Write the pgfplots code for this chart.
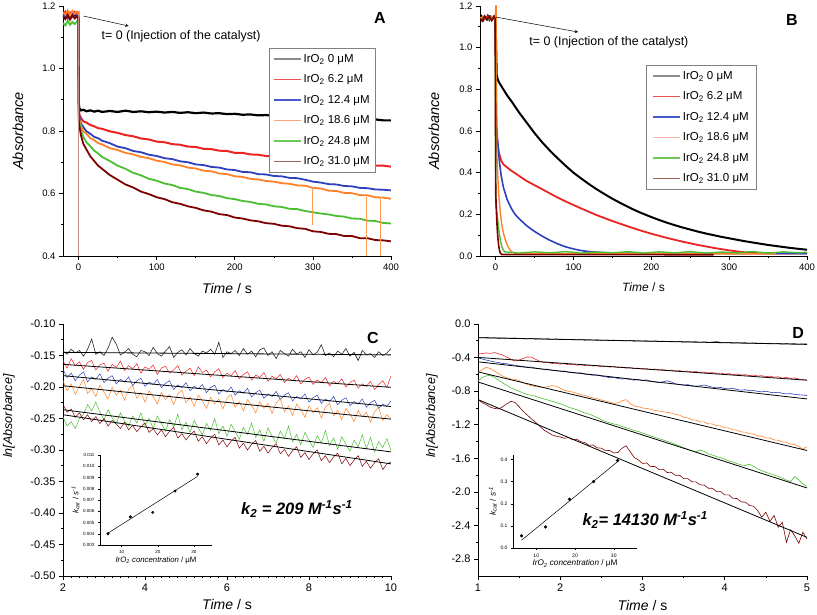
\documentclass[border=0pt]{standalone}
\usepackage{fontspec}
\setmainfont{Liberation Sans}
\usepackage{pgfplots}
\usepackage{pgfplotstable}
\pgfplotsset{compat=1.18}

\definecolor{cK}{RGB}{0,0,0}
\definecolor{cR}{RGB}{235,35,35}
\definecolor{cB}{RGB}{45,65,190}
\definecolor{cO}{RGB}{255,130,40}
\definecolor{cG}{RGB}{75,190,50}
\definecolor{cM}{RGB}{125,0,0}
\definecolor{lK}{RGB}{140,140,140}
\definecolor{lR}{RGB}{240,80,80}
\definecolor{lB}{RGB}{70,90,205}
\definecolor{lO}{RGB}{255,165,120}
\definecolor{lP}{RGB}{250,180,170}
\definecolor{lG}{RGB}{110,200,90}
\definecolor{lM}{RGB}{165,100,90}

\newcommand{\fs}[1]{\fontsize{#1}{#1}\selectfont}

\pgfplotstableread{
t k r b o g m
-20 1.170 1.175 1.165 1.180 1.145 1.165
-17 1.162 1.182 1.172 1.172 1.138 1.158
-14 1.176 1.168 1.160 1.186 1.152 1.171
-11 1.166 1.179 1.170 1.170 1.140 1.156
-8 1.174 1.171 1.175 1.184 1.149 1.169
-5 1.164 1.181 1.162 1.175 1.142 1.160
-2 1.175 1.172 1.171 1.182 1.151 1.167
-0.3 1.168 1.177 1.166 1.177 1.145 1.163
0.3 0.885 0.870 0.860 0.850 0.840 0.830
1 0.872 0.852 0.846 0.836 0.826 0.815
3 0.866 0.842 0.824 0.816 0.801 0.786
6 0.868 0.831 0.813 0.799 0.781 0.759
10 0.863 0.827 0.799 0.791 0.764 0.741
15 0.866 0.819 0.791 0.777 0.751 0.719
20 0.862 0.815 0.781 0.771 0.737 0.704
25 0.865 0.809 0.777 0.761 0.728 0.689
30 0.861 0.807 0.769 0.757 0.717 0.679
40 0.864 0.799 0.761 0.745 0.704 0.659
50 0.861 0.794 0.750 0.739 0.689 0.644
60 0.865 0.787 0.745 0.730 0.679 0.629
70 0.861 0.783 0.736 0.725 0.666 0.619
80 0.863 0.776 0.732 0.717 0.658 0.606
90 0.860 0.773 0.724 0.713 0.647 0.598
100 0.862 0.766 0.720 0.705 0.641 0.588
110 0.859 0.764 0.713 0.701 0.632 0.582
120 0.861 0.758 0.710 0.693 0.627 0.572
130 0.858 0.756 0.703 0.690 0.618 0.567
140 0.860 0.750 0.700 0.683 0.614 0.559
150 0.857 0.749 0.693 0.680 0.606 0.554
160 0.859 0.743 0.691 0.673 0.602 0.546
170 0.856 0.742 0.685 0.671 0.595 0.542
180 0.857 0.737 0.683 0.664 0.592 0.534
190 0.854 0.736 0.677 0.662 0.585 0.531
200 0.855 0.730 0.675 0.655 0.582 0.523
210 0.852 0.730 0.669 0.653 0.576 0.520
220 0.853 0.725 0.668 0.647 0.573 0.514
230 0.850 0.724 0.662 0.645 0.567 0.511
240 0.851 0.720 0.661 0.640 0.565 0.505
250 0.848 0.719 0.656 0.638 0.559 0.503
260 0.849 0.715 0.655 0.633 0.557 0.497
270 0.846 0.714 0.650 0.631 0.551 0.495
280 0.847 0.710 0.649 0.626 0.550 0.489
290 0.844 0.710 0.644 0.625 0.544 0.487
300 0.845 0.705 0.638 0.618 0.540 0.479
310 0.842 0.705 0.635 0.616 0.536 0.477
320 0.843 0.701 0.630 0.609 0.533 0.471
330 0.840 0.701 0.629 0.608 0.528 0.470
340 0.841 0.697 0.624 0.602 0.526 0.464
350 0.838 0.697 0.623 0.601 0.520 0.464
360 0.839 0.693 0.618 0.595 0.519 0.457
370 0.836 0.693 0.617 0.594 0.513 0.457
380 0.837 0.689 0.613 0.588 0.512 0.451
390 0.834 0.689 0.612 0.587 0.506 0.450
400 0.834 0.686 0.610 0.583 0.504 0.447
}\tableA

\pgfplotstableread{
x k r b o g m
2.0 -0.143 -0.158 -0.172 -0.190 -0.248 -0.228
2.1 -0.148 -0.170 -0.185 -0.206 -0.262 -0.240
2.2 -0.140 -0.155 -0.178 -0.195 -0.255 -0.235
2.3 -0.146 -0.166 -0.190 -0.212 -0.266 -0.248
2.4 -0.142 -0.160 -0.181 -0.199 -0.250 -0.241
2.5 -0.151 -0.172 -0.176 -0.188 -0.243 -0.252
2.6 -0.140 -0.161 -0.192 -0.210 -0.228 -0.244
2.7 -0.124 -0.158 -0.184 -0.203 -0.238 -0.255
2.8 -0.148 -0.173 -0.188 -0.215 -0.224 -0.247
2.9 -0.144 -0.165 -0.179 -0.197 -0.240 -0.258
3.0 -0.150 -0.162 -0.193 -0.208 -0.252 -0.250
3.1 -0.138 -0.175 -0.186 -0.219 -0.236 -0.262
3.2 -0.121 -0.164 -0.182 -0.200 -0.249 -0.253
3.3 -0.132 -0.169 -0.195 -0.213 -0.258 -0.259
3.4 -0.149 -0.159 -0.188 -0.205 -0.241 -0.266
3.5 -0.145 -0.174 -0.192 -0.221 -0.254 -0.256
3.6 -0.139 -0.166 -0.184 -0.204 -0.262 -0.268
3.7 -0.148 -0.171 -0.198 -0.198 -0.246 -0.261
3.8 -0.152 -0.163 -0.190 -0.218 -0.257 -0.271
3.9 -0.142 -0.178 -0.186 -0.209 -0.241 -0.263
4.0 -0.144 -0.168 -0.199 -0.224 -0.261 -0.257
4.1 -0.150 -0.172 -0.192 -0.206 -0.250 -0.272
4.2 -0.137 -0.165 -0.196 -0.215 -0.266 -0.266
4.3 -0.147 -0.180 -0.188 -0.227 -0.246 -0.276
4.4 -0.151 -0.170 -0.201 -0.209 -0.258 -0.268
4.5 -0.143 -0.167 -0.194 -0.220 -0.270 -0.279
4.6 -0.136 -0.178 -0.190 -0.212 -0.252 -0.270
4.7 -0.153 -0.173 -0.204 -0.228 -0.263 -0.264
4.8 -0.145 -0.166 -0.197 -0.211 -0.243 -0.281
4.9 -0.141 -0.181 -0.201 -0.205 -0.268 -0.274
5.0 -0.149 -0.175 -0.193 -0.225 -0.256 -0.284
5.1 -0.139 -0.170 -0.206 -0.216 -0.272 -0.276
5.2 -0.147 -0.182 -0.199 -0.231 -0.253 -0.270
5.3 -0.151 -0.168 -0.203 -0.213 -0.265 -0.286
5.4 -0.143 -0.177 -0.196 -0.222 -0.276 -0.279
5.5 -0.146 -0.173 -0.209 -0.234 -0.258 -0.290
5.6 -0.140 -0.184 -0.201 -0.216 -0.269 -0.281
5.7 -0.148 -0.176 -0.197 -0.227 -0.250 -0.275
5.8 -0.129 -0.171 -0.211 -0.219 -0.274 -0.292
5.9 -0.153 -0.185 -0.204 -0.235 -0.262 -0.284
6.0 -0.144 -0.178 -0.208 -0.218 -0.278 -0.295
6.1 -0.147 -0.182 -0.200 -0.212 -0.259 -0.286
6.2 -0.142 -0.174 -0.213 -0.232 -0.271 -0.280
6.3 -0.150 -0.187 -0.206 -0.223 -0.283 -0.297
6.4 -0.139 -0.180 -0.210 -0.238 -0.264 -0.289
6.5 -0.148 -0.176 -0.202 -0.220 -0.275 -0.300
6.6 -0.143 -0.189 -0.216 -0.229 -0.257 -0.291
6.7 -0.152 -0.181 -0.209 -0.241 -0.280 -0.285
6.8 -0.141 -0.185 -0.205 -0.223 -0.268 -0.302
6.9 -0.138 -0.177 -0.218 -0.234 -0.286 -0.294
7.0 -0.150 -0.191 -0.211 -0.226 -0.265 -0.305
7.1 -0.144 -0.183 -0.215 -0.242 -0.278 -0.296
7.2 -0.155 -0.187 -0.207 -0.225 -0.289 -0.290
7.3 -0.142 -0.180 -0.220 -0.219 -0.270 -0.306
7.4 -0.147 -0.193 -0.213 -0.239 -0.282 -0.299
7.5 -0.151 -0.186 -0.209 -0.230 -0.262 -0.310
7.6 -0.140 -0.190 -0.222 -0.245 -0.287 -0.301
7.7 -0.148 -0.182 -0.215 -0.227 -0.275 -0.295
7.8 -0.144 -0.195 -0.219 -0.236 -0.292 -0.312
7.9 -0.153 -0.188 -0.211 -0.248 -0.272 -0.304
8.0 -0.141 -0.184 -0.224 -0.230 -0.284 -0.315
8.1 -0.149 -0.196 -0.217 -0.241 -0.296 -0.306
8.2 -0.145 -0.189 -0.213 -0.233 -0.277 -0.300
8.3 -0.133 -0.193 -0.226 -0.249 -0.289 -0.317
8.4 -0.150 -0.185 -0.219 -0.232 -0.269 -0.309
8.5 -0.146 -0.198 -0.223 -0.226 -0.293 -0.320
8.6 -0.152 -0.191 -0.215 -0.246 -0.281 -0.311
8.7 -0.143 -0.195 -0.228 -0.237 -0.299 -0.305
8.8 -0.148 -0.187 -0.221 -0.252 -0.279 -0.322
8.9 -0.139 -0.200 -0.217 -0.234 -0.291 -0.313
9.0 -0.151 -0.193 -0.230 -0.243 -0.302 -0.325
9.1 -0.145 -0.189 -0.223 -0.255 -0.284 -0.316
9.2 -0.158 -0.202 -0.227 -0.237 -0.295 -0.309
9.3 -0.142 -0.195 -0.219 -0.248 -0.276 -0.326
9.4 -0.149 -0.199 -0.232 -0.240 -0.298 -0.318
9.5 -0.147 -0.191 -0.225 -0.256 -0.280 -0.329
9.6 -0.153 -0.204 -0.221 -0.239 -0.303 -0.320
9.7 -0.144 -0.196 -0.234 -0.233 -0.287 -0.314
9.8 -0.150 -0.190 -0.227 -0.253 -0.296 -0.331
9.9 -0.146 -0.201 -0.231 -0.244 -0.282 -0.322
10.0 -0.139 -0.182 -0.222 -0.250 -0.300 -0.319
}\tableC

\pgfplotstableread{
x k r b o g m
1.00 -0.160 -0.360 -0.405 -0.580 -0.680 -0.900
1.05 -0.166 -0.352 -0.415 -0.545 -0.640 -0.935
1.10 -0.159 -0.345 -0.430 -0.515 -0.618 -0.960
1.15 -0.167 -0.350 -0.440 -0.530 -0.610 -0.990
1.20 -0.163 -0.340 -0.452 -0.560 -0.635 -1.005
1.25 -0.170 -0.355 -0.458 -0.590 -0.668 -1.010
1.30 -0.165 -0.370 -0.470 -0.620 -0.700 -0.985
1.35 -0.168 -0.395 -0.472 -0.640 -0.732 -0.950
1.40 -0.172 -0.420 -0.485 -0.655 -0.760 -0.920
1.45 -0.166 -0.440 -0.490 -0.660 -0.780 -0.935
1.50 -0.175 -0.430 -0.500 -0.672 -0.800 -0.985
1.55 -0.171 -0.410 -0.505 -0.700 -0.822 -1.040
1.60 -0.176 -0.392 -0.515 -0.720 -0.838 -1.085
1.65 -0.172 -0.395 -0.512 -0.735 -0.848 -1.130
1.70 -0.179 -0.420 -0.525 -0.745 -0.862 -1.170
1.75 -0.174 -0.445 -0.532 -0.750 -0.878 -1.215
1.80 -0.181 -0.460 -0.540 -0.755 -0.892 -1.262
1.85 -0.177 -0.455 -0.538 -0.745 -0.905 -1.290
1.90 -0.183 -0.470 -0.552 -0.735 -0.920 -1.320
1.95 -0.178 -0.468 -0.556 -0.740 -0.935 -1.335
2.00 -0.185 -0.478 -0.562 -0.765 -0.950 -1.345
2.05 -0.181 -0.472 -0.560 -0.790 -0.968 -1.360
2.10 -0.186 -0.485 -0.575 -0.800 -0.990 -1.352
2.15 -0.183 -0.480 -0.580 -0.810 -1.005 -1.378
2.20 -0.189 -0.490 -0.585 -0.825 -1.020 -1.372
2.25 -0.186 -0.486 -0.582 -0.842 -1.040 -1.402
2.30 -0.191 -0.495 -0.598 -0.850 -1.060 -1.412
2.35 -0.187 -0.490 -0.602 -0.868 -1.072 -1.445
2.40 -0.193 -0.500 -0.610 -0.880 -1.092 -1.440
2.45 -0.190 -0.497 -0.605 -0.890 -1.115 -1.475
2.50 -0.194 -0.508 -0.620 -0.905 -1.140 -1.478
2.55 -0.191 -0.502 -0.628 -0.915 -1.160 -1.508
2.60 -0.196 -0.512 -0.640 -0.930 -1.175 -1.505
2.65 -0.192 -0.508 -0.635 -0.945 -1.190 -1.535
2.70 -0.199 -0.518 -0.648 -0.940 -1.200 -1.530
2.75 -0.195 -0.513 -0.655 -0.915 -1.218 -1.480
2.80 -0.200 -0.525 -0.650 -0.900 -1.235 -1.450
2.85 -0.196 -0.520 -0.662 -0.945 -1.250 -1.520
2.90 -0.203 -0.530 -0.668 -0.975 -1.268 -1.590
2.95 -0.199 -0.526 -0.660 -0.985 -1.280 -1.618
3.00 -0.204 -0.536 -0.672 -1.000 -1.298 -1.660
3.05 -0.200 -0.531 -0.665 -1.005 -1.315 -1.655
3.10 -0.206 -0.542 -0.680 -1.015 -1.333 -1.698
3.15 -0.201 -0.536 -0.690 -1.030 -1.348 -1.695
3.20 -0.208 -0.548 -0.700 -1.035 -1.365 -1.732
3.25 -0.204 -0.543 -0.688 -1.045 -1.380 -1.728
3.30 -0.209 -0.553 -0.676 -1.052 -1.398 -1.768
3.35 -0.206 -0.548 -0.690 -1.060 -1.415 -1.765
3.40 -0.211 -0.560 -0.712 -1.075 -1.432 -1.802
3.45 -0.208 -0.555 -0.720 -1.085 -1.452 -1.800
3.50 -0.213 -0.566 -0.728 -1.110 -1.472 -1.840
3.55 -0.210 -0.560 -0.722 -1.118 -1.490 -1.840
3.60 -0.215 -0.571 -0.735 -1.140 -1.508 -1.878
3.65 -0.211 -0.566 -0.742 -1.144 -1.525 -1.880
3.70 -0.217 -0.578 -0.735 -1.165 -1.500 -1.915
3.75 -0.213 -0.572 -0.726 -1.166 -1.518 -1.918
3.80 -0.219 -0.583 -0.740 -1.188 -1.545 -1.955
3.85 -0.215 -0.578 -0.752 -1.190 -1.560 -1.955
3.90 -0.210 -0.589 -0.760 -1.210 -1.578 -1.995
3.95 -0.218 -0.584 -0.755 -1.214 -1.592 -1.995
4.00 -0.223 -0.595 -0.768 -1.236 -1.610 -2.035
4.05 -0.219 -0.590 -0.772 -1.238 -1.630 -2.035
4.10 -0.225 -0.602 -0.765 -1.260 -1.645 -2.075
4.15 -0.221 -0.596 -0.780 -1.263 -1.662 -2.078
4.20 -0.227 -0.608 -0.788 -1.285 -1.678 -2.118
4.25 -0.223 -0.603 -0.782 -1.288 -1.685 -2.120
4.30 -0.229 -0.614 -0.795 -1.308 -1.668 -2.160
4.35 -0.225 -0.608 -0.790 -1.310 -1.695 -2.170
4.40 -0.231 -0.620 -0.802 -1.333 -1.725 -2.220
4.45 -0.227 -0.615 -0.808 -1.334 -1.745 -2.300
4.50 -0.233 -0.627 -0.800 -1.355 -1.765 -2.240
4.55 -0.229 -0.621 -0.812 -1.358 -1.782 -2.350
4.60 -0.235 -0.633 -0.818 -1.380 -1.798 -2.280
4.65 -0.231 -0.628 -0.812 -1.384 -1.815 -2.420
4.70 -0.237 -0.645 -0.826 -1.403 -1.835 -2.360
4.75 -0.232 -0.636 -0.832 -1.408 -1.858 -2.600
4.80 -0.238 -0.648 -0.828 -1.430 -1.875 -2.450
4.85 -0.234 -0.642 -0.838 -1.433 -1.815 -2.520
4.90 -0.240 -0.656 -0.842 -1.460 -1.855 -2.610
4.95 -0.236 -0.660 -0.846 -1.490 -1.905 -2.480
5.00 -0.238 -0.670 -0.852 -1.460 -1.932 -2.560
}\tableD

\pgfplotsset{
  base/.style={
    scale only axis,
    axis x line*=bottom, axis y line*=left,
    axis line style={-, line width=0.8pt},
    tick align=outside,
    major tick length=4pt, minor tick length=2.2pt,
    tick style={black, line width=0.7pt},
    scaled ticks=false,
    /pgf/number format/assume math mode=true,
    legend cell align=left,
  },
  fmt/.style={y tick label style={/pgf/number format/fixed, /pgf/number format/fixed zerofill, /pgf/number format/precision=#1}},
  leg/.style={legend style={at={#1}, anchor=north west, draw=gray, line width=0.6pt,
    font=\fs{11.5}, row sep=7pt, inner xsep=4pt, inner ysep=4pt},
    legend image code/.code={\draw[##1] (0pt,0pt) -- (27pt,0pt);}},
}

\begin{document}
\begin{tikzpicture}[x=1pt,y=1pt]
\useasboundingbox (0,0) rectangle (817,614);

% ---------------- Panel A ----------------
\begin{axis}[base, fmt=1, leg={(0.628,0.832)},
  at={(63pt,358pt)}, anchor=south west, width=328pt, height=250pt,
  xmin=-20, xmax=400, ymin=0.4, ymax=1.2,
  xtick={0,100,200,300,400}, minor x tick num=1,
  ytick={0.4,0.6,0.8,1.0,1.2}, minor y tick num=1,
  ticklabel style={font=\fs{9.5}},
  xlabel={\textit{Time} / s}, ylabel={\textit{Absorbance}},
  xlabel style={font=\fs{14}, at={(axis description cs:0.5,-0.128)}, anchor=center},
  ylabel style={font=\fs{14.5}, at={(axis description cs:-0.137,0.5)}, anchor=center},
]
\addlegendimage{draw=lK, line width=1.4pt}
\addlegendimage{draw=lR, line width=1.4pt}
\addlegendimage{draw=lB, line width=1.4pt}
\addlegendimage{draw=lO, line width=1.4pt}
\addlegendimage{draw=lG, line width=1.4pt}
\addlegendimage{draw=lM, line width=1.4pt}
\addplot[cK, line width=2.2pt, forget plot] table[x=t, y=k] {\tableA};
\addplot[cR, line width=2.0pt, forget plot] table[x=t, y=r] {\tableA};
\addplot[cB, line width=1.8pt, forget plot] table[x=t, y=b] {\tableA};
\addplot[cO, line width=1.8pt, forget plot] table[x=t, y=o] {\tableA};
\addplot[cG, line width=1.8pt, forget plot] table[x=t, y=g] {\tableA};
\addplot[cM, line width=1.8pt, forget plot] table[x=t, y=m] {\tableA};
\addplot[cM!45, line width=0.6pt, forget plot] coordinates {(0,1.17) (0,0.38)};
\addplot[cO!80, line width=0.5pt, forget plot] coordinates {(299,0.62) (299,0.50)};
\addplot[cO!80, line width=0.5pt, forget plot] coordinates {(368,0.59) (368,0.38)};
\addplot[cO!80, line width=0.5pt, forget plot] coordinates {(386,0.59) (386,0.38)};
\legend{IrO\textsubscript{2} 0 μM, IrO\textsubscript{2} 6.2 μM, IrO\textsubscript{2} 12.4 μM, IrO\textsubscript{2} 18.6 μM, IrO\textsubscript{2} 24.8 μM, IrO\textsubscript{2} 31.0 μM}
\draw[-stealth, line width=0.5pt] (axis cs:6,1.168) -- (axis cs:64,1.136);
\node[anchor=west, font=\fs{12.4}] at (axis cs:25,1.104) {t= 0 (Injection of the catalyst)};
\node[font=\fs{16}\bfseries] at (rel axis cs:0.966,0.952) {A};
\end{axis}

% ---------------- Panel B ----------------
\begin{axis}[base, fmt=1, leg={(0.508,0.764)},
  at={(480pt,358pt)}, anchor=south west, width=327pt, height=250pt,
  xmin=-20, xmax=400, ymin=0, ymax=1.2,
  xtick={0,100,200,300,400}, minor x tick num=1,
  ytick={0,0.2,0.4,0.6,0.8,1.0,1.2}, minor y tick num=1,
  ticklabel style={font=\fs{9.5}},
  xlabel={\textit{Time} / s}, ylabel={\textit{Absorbance}},
  xlabel style={font=\fs{12}, at={(axis description cs:0.5,-0.124)}, anchor=center},
  ylabel style={font=\fs{14.5}, at={(axis description cs:-0.141,0.5)}, anchor=center},
  legend style={inner xsep=6pt},
]
\addlegendimage{draw=lK, line width=1.4pt}
\addlegendimage{draw=lR, line width=1.4pt}
\addlegendimage{draw=lB, line width=1.4pt}
\addlegendimage{draw=lP, line width=1.4pt}
\addlegendimage{draw=lG, line width=1.4pt}
\addlegendimage{draw=lM, line width=1.4pt}
\addplot[cK, line width=2.0pt, forget plot] coordinates {(-20,1.140) (-18,1.150) (-16,1.132) (-14,1.146) (-12,1.138) (-10,1.152) (-8,1.135) (-6,1.148) (-4,1.140) (-2,1.150) (-0.5,1.142) (0.5,1.05) (1.5,0.87) (3,0.845) (5,0.83) (10,0.80) (15,0.77) (20,0.745) (30,0.69) (40,0.64) (50,0.59) (60,0.545) (70,0.505) (80,0.468) (90,0.433) (100,0.40) (110,0.372) (120,0.345) (130,0.32) (140,0.297) (150,0.275) (160,0.255) (170,0.236) (180,0.218) (190,0.202) (200,0.187) (210,0.173) (220,0.16) (230,0.148) (240,0.137) (250,0.127) (260,0.117) (270,0.108) (280,0.10) (290,0.092) (300,0.085) (310,0.078) (320,0.071) (330,0.065) (340,0.059) (350,0.053) (360,0.048) (370,0.043) (380,0.038) (390,0.034) (400,0.030)};
\addplot[cR, line width=1.8pt, forget plot] coordinates {(-20,1.145) (-15,1.135) (-10,1.150) (-5,1.138) (-0.5,1.145) (0.5,0.9) (1,0.62) (2,0.56) (4,0.50) (7,0.46) (10,0.44) (15,0.425) (20,0.41) (30,0.385) (40,0.36) (50,0.34) (60,0.32) (70,0.30) (80,0.28) (90,0.262) (100,0.245) (110,0.228) (120,0.212) (130,0.196) (140,0.182) (150,0.168) (160,0.155) (170,0.142) (180,0.13) (190,0.118) (200,0.107) (210,0.097) (220,0.087) (230,0.078) (240,0.069) (250,0.061) (260,0.053) (270,0.046) (280,0.039) (290,0.033) (300,0.027) (310,0.022) (320,0.018) (340,0.014) (360,0.012) (400,0.012)};
\addplot[cB, line width=1.6pt, forget plot] coordinates {(-20,1.138) (-15,1.148) (-10,1.136) (-5,1.147) (-0.5,1.140) (0.5,0.8) (1.5,0.6) (3,0.54) (5,0.45) (7,0.39) (10,0.33) (15,0.27) (20,0.23) (25,0.20) (30,0.18) (40,0.145) (50,0.118) (60,0.095) (70,0.075) (80,0.058) (90,0.044) (100,0.034) (110,0.026) (120,0.021) (140,0.016) (160,0.014) (200,0.012) (400,0.012)};
\addplot[cO, line width=1.4pt, forget plot] coordinates {(-20,1.142) (-15,1.150) (-10,1.137) (-5,1.149) (-0.5,1.141) (0.3,1.2) (0.8,1.2) (1.2,0.6) (2,0.45) (4,0.30) (6,0.21) (8,0.15) (10,0.11) (12,0.085) (14,0.062) (16,0.045) (18,0.032) (20,0.023) (22,0.017) (25,0.012) (360,0.010)};
\addplot[cG, line width=1.4pt, forget plot] coordinates {(-20,1.136) (-15,1.146) (-10,1.132) (-5,1.144) (-0.5,1.138) (0.3,0.25) (2,0.20) (4,0.13) (6,0.08) (8,0.045) (10,0.028) (12,0.02) (30,0.014) (50,0.020) (70,0.015) (90,0.021) (110,0.014) (130,0.019) (150,0.015) (170,0.021) (190,0.014) (210,0.020) (230,0.015) (250,0.021) (270,0.014) (290,0.019) (310,0.015) (330,0.021) (350,0.014) (370,0.020) (390,0.015) (400,0.018)};
\addplot[cM, line width=1.6pt, forget plot] coordinates {(-20,1.140) (-17,1.128) (-14,1.152) (-11,1.134) (-8,1.150) (-5,1.130) (-2,1.148) (-0.5,1.138) (0.2,0.30) (1,0.22) (2,0.14) (3,0.085) (4,0.05) (5,0.028) (6,0.015) (8,0.007) (280,0.006)};
\legend{IrO\textsubscript{2} 0 μM, IrO\textsubscript{2} 6.2 μM, IrO\textsubscript{2} 12.4 μM, IrO\textsubscript{2} 18.6 μM, IrO\textsubscript{2} 24.8 μM, IrO\textsubscript{2} 31.0 μM}
\draw[-stealth, line width=0.5pt] (axis cs:0,1.147) -- (axis cs:106,1.075);
\node[anchor=west, font=\fs{12.4}] at (axis cs:39,1.027) {t= 0 (Injection of the catalyst)};
\node[font=\fs{16}\bfseries] at (rel axis cs:0.954,0.944) {B};
\end{axis}

% ---------------- Panel C ----------------
\begin{axis}[base, fmt=2,
  at={(63pt,38pt)}, anchor=south west, width=328pt, height=252pt,
  xmin=2, xmax=10, ymin=-0.5, ymax=-0.1,
  xtick={2,4,6,8,10}, minor x tick num=9,
  ytick={-0.5,-0.45,-0.4,-0.35,-0.3,-0.25,-0.2,-0.15,-0.1}, minor y tick num=1,
  ticklabel style={font=\fs{11}},
  xlabel={\textit{Time} / s}, ylabel={\textit{ln[Absorbance]}},
  xlabel style={font=\fs{14}, at={(axis description cs:0.5,-0.115)}, anchor=center},
  ylabel style={font=\fs{12.5}, at={(axis description cs:-0.165,0.635)}, anchor=center},
]
\addplot[cK!85, line width=0.6pt] table[x=x, y=k] {\tableC};
\addplot[cR, line width=0.5pt] table[x=x, y=r] {\tableC};
\addplot[cB, line width=0.5pt] table[x=x, y=b] {\tableC};
\addplot[cO, line width=0.5pt] table[x=x, y=o] {\tableC};
\addplot[cG, line width=0.5pt] table[x=x, y=g] {\tableC};
\addplot[cM, line width=0.5pt] table[x=x, y=m] {\tableC};
\addplot[black, line width=0.8pt] coordinates {(2,-0.145) (10,-0.149)};
\addplot[black, line width=0.8pt] coordinates {(2,-0.164) (10,-0.2005)};
\addplot[black, line width=0.8pt] coordinates {(2,-0.182) (10,-0.231)};
\addplot[black, line width=0.8pt] coordinates {(2,-0.198) (10,-0.251)};
\addplot[black, line width=0.8pt] coordinates {(2,-0.236) (10,-0.303)};
\addplot[black, line width=0.8pt] coordinates {(2,-0.244) (10,-0.322)};
\node[font=\fs{16}\bfseries] at (rel axis cs:0.945,0.944) {C};
\node[font=\fs{16.5}\bfseries\itshape] at (rel axis cs:0.713,0.266) {k\textsubscript{2} = 209 M\textsuperscript{-1}s\textsuperscript{-1}};
\end{axis}

% ---------------- Panel D ----------------
\begin{axis}[base, fmt=1,
  at={(478pt,38pt)}, anchor=south west, width=329pt, height=252pt,
  xmin=1, xmax=5, ymin=-3.0, ymax=0,
  xtick={1,2,3,4,5}, minor x tick num=1,
  ytick={-2.8,-2.4,-2.0,-1.6,-1.2,-0.8,-0.4,0}, minor y tick num=1,
  ticklabel style={font=\fs{11}},
  xlabel={\textit{Time} / s}, ylabel={\textit{ln[Absorbance]}},
  xlabel style={font=\fs{14}, at={(axis description cs:0.5,-0.119)}, anchor=center},
  ylabel style={font=\fs{12.5}, at={(axis description cs:-0.14,0.635)}, anchor=center},
]
\addplot[cK!85, line width=0.6pt] table[x=x, y=k] {\tableD};
\addplot[cR, line width=0.6pt] table[x=x, y=r] {\tableD};
\addplot[cB, line width=0.6pt] table[x=x, y=b] {\tableD};
\addplot[cO, line width=0.6pt] table[x=x, y=o] {\tableD};
\addplot[cG, line width=0.6pt] table[x=x, y=g] {\tableD};
\addplot[cM, line width=0.6pt] table[x=x, y=m] {\tableD};
\addplot[black, line width=0.8pt] coordinates {(1,-0.163) (5,-0.243)};
\addplot[black, line width=0.8pt] coordinates {(1,-0.398) (5,-0.669)};
\addplot[black, line width=0.8pt] coordinates {(1,-0.45) (5,-0.892)};
\addplot[black, line width=0.8pt] coordinates {(1,-0.57) (5,-1.506)};
\addplot[black, line width=0.8pt] coordinates {(1,-0.69) (5,-1.952)};
\addplot[black, line width=0.8pt] coordinates {(1,-0.90) (5,-2.54)};
\node[font=\fs{16}\bfseries] at (rel axis cs:0.973,0.964) {D};
\node[font=\fs{16.5}\bfseries\itshape] at (rel axis cs:0.508,0.222) {k\textsubscript{2}= 14130 M\textsuperscript{-1}s\textsuperscript{-1}};
\end{axis}

% ---------------- Inset C ----------------
\begin{axis}[base, fmt=3,
  at={(100pt,69pt)}, anchor=south west, width=112pt, height=90pt,
  axis line style={-, line width=0.5pt}, tick style={black, line width=0.4pt},
  major tick length=2pt, minor tick length=1.2pt,
  xmin=4, xmax=35, ymin=0.003, ymax=0.011,
  xtick={10,20,30}, minor x tick num=1,
  ytick={0.003,0.004,0.005,0.006,0.007,0.008,0.009,0.010,0.011},
  ticklabel style={font=\fs{4.5}},
  xlabel={\textit{IrO\textsubscript{2} concentration} / μM},
  ylabel={\textit{k\textsubscript{cat}} / \textit{s\textsuperscript{-1}}},
  label style={font=\fs{7.8}},
  xlabel style={yshift=4pt}, ylabel style={yshift=-3pt},
]
\addplot[black, line width=0.5pt] coordinates {(6.2,0.00405) (31,0.0091)};
\addplot[only marks, mark=*, mark size=1.3pt, black] coordinates {(6.2,0.0040) (12.4,0.0055) (18.6,0.0059) (24.8,0.0078) (31,0.0093)};
\end{axis}

% ---------------- Inset D ----------------
\begin{axis}[base, fmt=1,
  at={(513pt,66pt)}, anchor=south west, width=124pt, height=93pt,
  axis line style={-, line width=0.5pt}, tick style={black, line width=0.4pt},
  major tick length=2pt, minor tick length=1.2pt,
  xmin=4, xmax=36, ymin=0, ymax=0.42,
  xtick={10,20,30}, minor x tick num=1,
  ytick={0,0.1,0.2,0.3,0.4},
  ticklabel style={font=\fs{5}},
  xlabel={\textit{IrO\textsubscript{2} concentration} / μM},
  ylabel={\textit{k\textsubscript{cat}} / \textit{s\textsuperscript{-1}}},
  label style={font=\fs{8.2}},
  xlabel style={yshift=4pt}, ylabel style={yshift=-3pt},
]
\addplot[black, line width=0.5pt] coordinates {(6.2,0.035) (31,0.39)};
\addplot[only marks, mark=*, mark size=1.4pt, black] coordinates {(6.2,0.055) (12.4,0.095) (18.6,0.22) (24.8,0.30) (31,0.395)};
\end{axis}
\end{tikzpicture}
\end{document}
